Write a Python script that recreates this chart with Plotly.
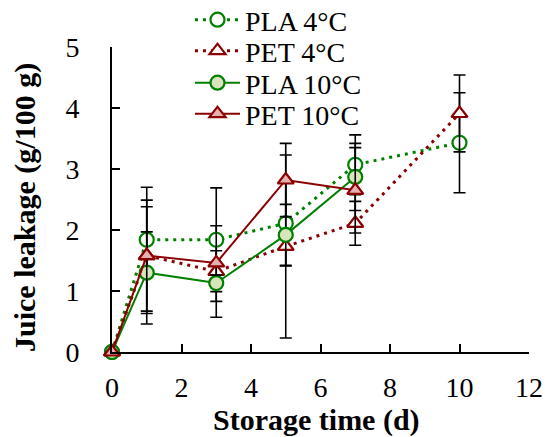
import plotly.graph_objects as go

days_4 = [0, 1, 3, 5, 7, 10]
days_10 = [0, 1, 3, 5, 7]

pla_4 = [0, 1.84, 1.84, 2.11, 3.07, 3.43]
pla_4_err = [None, 0.54, 0.85, 0.70, 0.49, 0.82]
pet_4 = [0, 1.58, 1.32, 1.73, 2.11, 3.91]
pet_4_err = [None, 1.12, 0.75, 1.50, 0.36, 0.63]
pla_10 = [0, 1.30, 1.13, 1.92, 2.87]
pla_10_err = [None, 0.67, 0.30, 0.50, 0.55]
pet_10 = [0, 1.58, 1.46, 2.82, 2.65]
pet_10_err = [None, 0.91, 0.20, 0.60, 0.70]

x_ticks = [0, 2, 4, 6, 8, 10, 12]
y_ticks = [0, 1, 2, 3, 4, 5]

GREEN = "#008000"
DRED = "#8B0000"
FONT = "Liberation Serif"
W, H = 545, 437


def err(arr):
    return dict(type="data", array=arr, visible=True, color="black",
                thickness=1.6, width=6)


fig = go.Figure()
fig.add_trace(go.Scatter(
    x=days_4, y=pla_4, name="PLA 4°C", mode="lines+markers", legend="legend",
    line=dict(color=GREEN, width=3, dash="3px,5px"),
    marker=dict(symbol="circle", size=14, color="white",
                line=dict(color=GREEN, width=2.2)),
    error_y=err(pla_4_err), cliponaxis=False))
fig.add_trace(go.Scatter(
    x=days_4, y=pet_4, name="PET 4°C", mode="lines+markers", legend="legend2",
    line=dict(color=DRED, width=3, dash="3px,5px"),
    marker=dict(symbol="triangle-up", size=14, color="white",
                line=dict(color=DRED, width=2.2)),
    error_y=err(pet_4_err), cliponaxis=False))
fig.add_trace(go.Scatter(
    x=days_10, y=pla_10, name="PLA 10°C", mode="lines+markers", legend="legend3",
    line=dict(color=GREEN, width=2),
    marker=dict(symbol="circle", size=14, color="#d8e4bc",
                line=dict(color=GREEN, width=2.2)),
    error_y=err(pla_10_err), cliponaxis=False))
fig.add_trace(go.Scatter(
    x=days_10, y=pet_10, name="PET 10°C", mode="lines+markers", legend="legend4",
    line=dict(color=DRED, width=2),
    marker=dict(symbol="triangle-up", size=14, color="#e6b0b0",
                line=dict(color=DRED, width=2.2)),
    error_y=err(pet_10_err), cliponaxis=False))


def leg(ypx):
    # ypx: target centre of the entry in page pixels
    return dict(x=190 / W, y=1 - ypx / H, xref="container",
                yref="container", xanchor="left", yanchor="middle",
                bgcolor="rgba(0,0,0,0)",
                font=dict(size=28, family=FONT, color="black"), itemwidth=45,
                borderwidth=0)


# plot area in page pixels: x 112..529, y 47..352
plot_l, plot_r, plot_t, plot_b = 112, 16, 47, 85
pw = W - plot_l - plot_r
ph = H - plot_t - plot_b
bottom_page = H - plot_b

fig.update_layout(
    width=W, height=H,
    margin=dict(l=plot_l, r=plot_r, t=plot_t, b=plot_b, autoexpand=False),
    paper_bgcolor="white", plot_bgcolor="white",
    font=dict(family=FONT, size=28, color="black"),
    showlegend=True,
    legend=leg(20), legend2=leg(51), legend3=leg(83), legend4=leg(114),
    xaxis=dict(range=[0, 12], tickvals=x_ticks, ticktext=[str(v) for v in x_ticks],
               showgrid=False, zeroline=False, showline=True, linecolor="black",
               linewidth=2, ticks="inside", ticklen=8, tickwidth=2, tickcolor="black",
               ticklabelstandoff=9, tickfont=dict(size=28, family=FONT)),
    yaxis=dict(range=[0, 5], tickvals=y_ticks, ticktext=[str(v) for v in y_ticks],
               showgrid=False, zeroline=False, showline=True, linecolor="black",
               linewidth=2, ticks="inside", ticklen=8, tickwidth=2, tickcolor="black",
               ticklabelstandoff=25, tickfont=dict(size=28, family=FONT)),
    annotations=[
        dict(text="<b>Storage time (d)</b>", xref="paper", yref="paper",
             x=(316 - plot_l) / pw, y=-(420 - bottom_page) / ph,
             xanchor="center", yanchor="middle", showarrow=False,
             font=dict(size=30, family=FONT, color="black")),
        dict(text="<b>Juice leakage (g/100 g)</b>", xref="paper", yref="paper",
             x=(25 - plot_l) / pw, y=(bottom_page - 208) / ph,
             xanchor="center", yanchor="middle", textangle=-90, showarrow=False,
             font=dict(size=30, family=FONT, color="black")),
    ],
)

fig.write_html(
    "out.html",
    config={"displayModeBar": False},
    post_script="document.body.style.margin='0';document.body.style.overflow='hidden';",
)
